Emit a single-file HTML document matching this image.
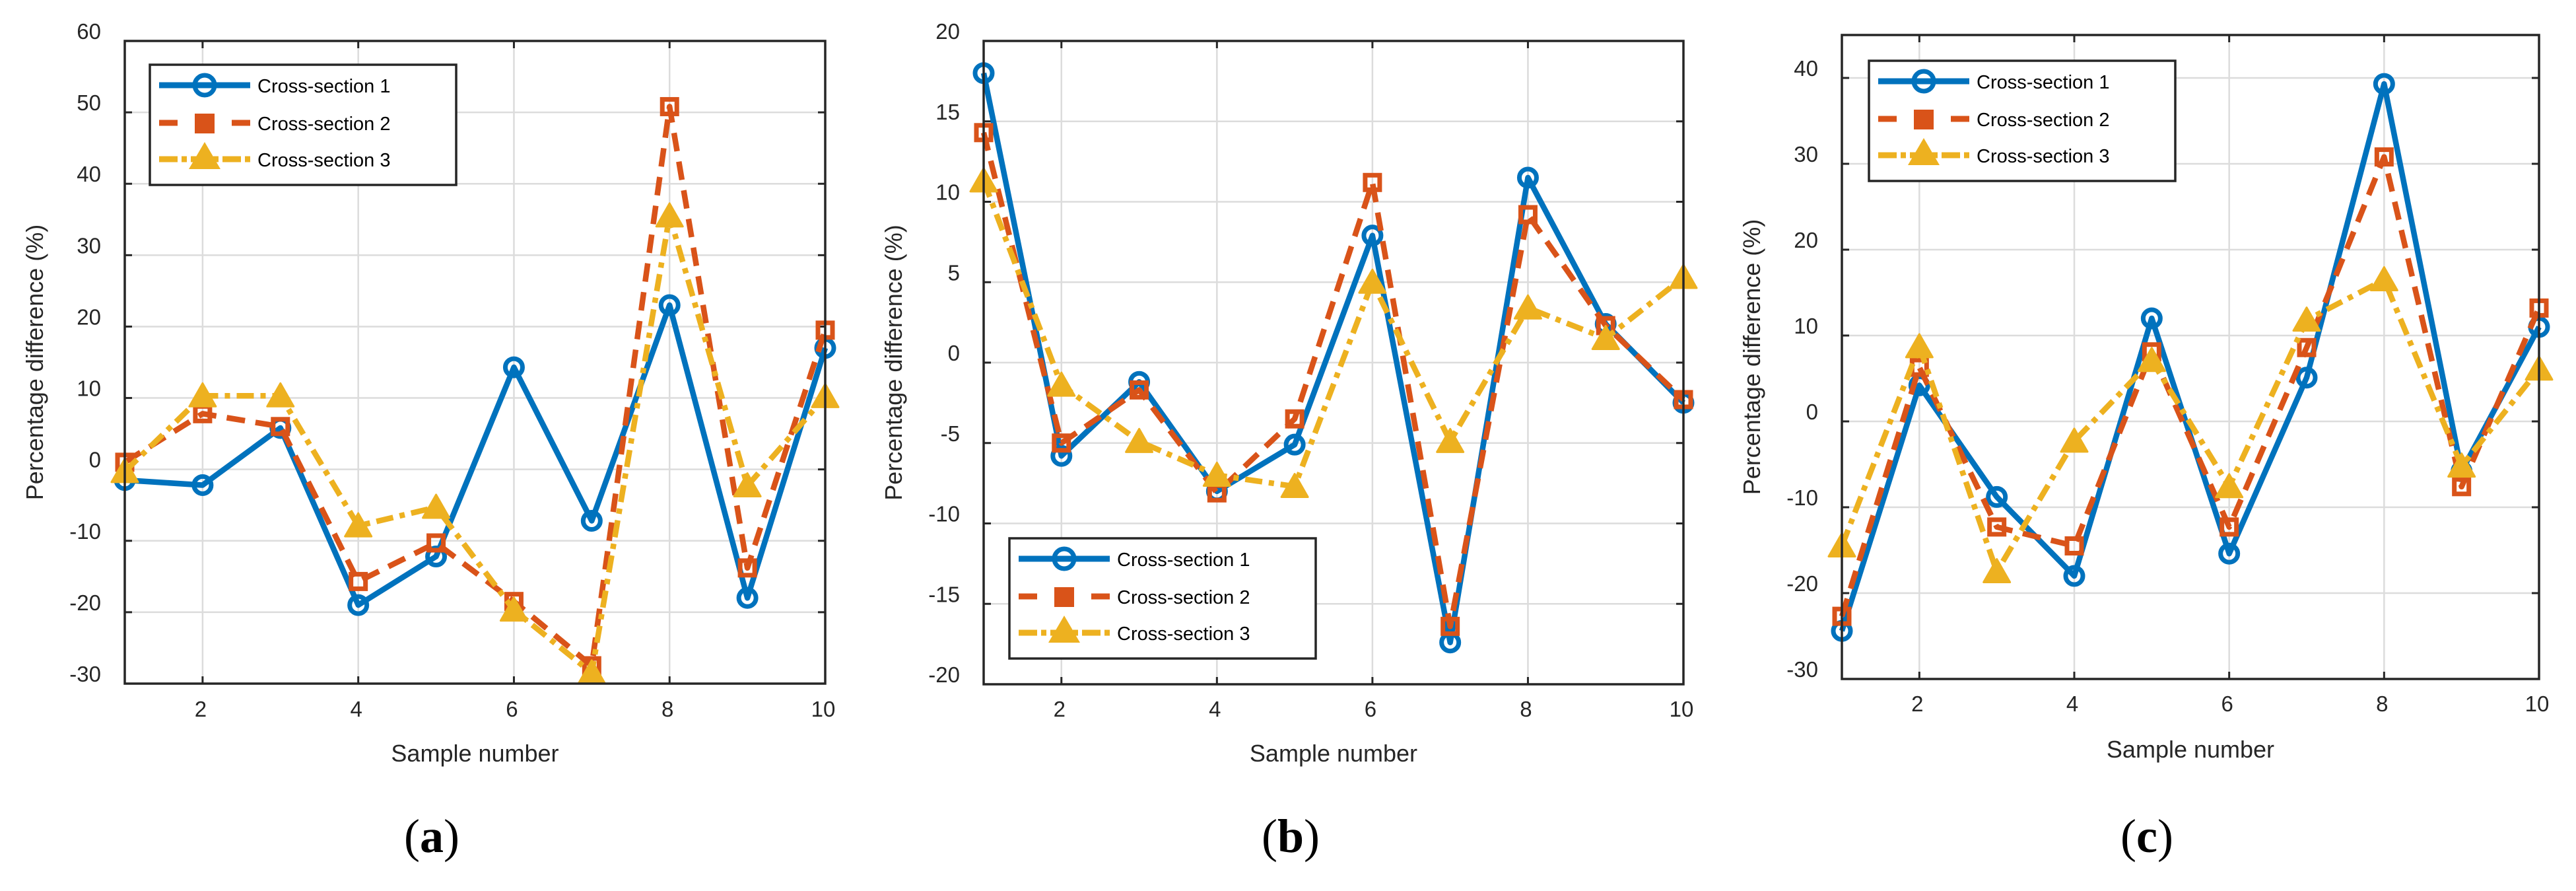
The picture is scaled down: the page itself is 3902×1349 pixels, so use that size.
<!DOCTYPE html>
<html><head><meta charset="utf-8"><style>
html,body{margin:0;padding:0;background:#fff;}
svg{display:block;}
</style></head><body>
<svg id="fig" width="3902" height="1349" viewBox="0 0 3902 1349" xmlns="http://www.w3.org/2000/svg"></svg>
<script>
const samples=[1,2,3,4,5,6,7,8,9,10];
const xTicks=[2,4,6,8,10];
const seriesNames=["Cross-section 1","Cross-section 2","Cross-section 3"];
const aCs1=[-1.5,-2.2,5.8,-19,-12.2,14.3,-7.2,23,-18,17];
const aCs2=[1,7.8,6,-15.7,-10.3,-18.5,-27.5,50.8,-13.8,19.5];
const aCs3=[-0.3,10.3,10.3,-7.9,-5.3,-19.7,-28.5,35.5,-2.3,10.2];
const aYTicks=[-30,-20,-10,0,10,20,30,40,50,60];
const bCs1=[18,-5.8,-1.2,-8,-5.1,7.9,-17.4,11.5,2.4,-2.5];
const bCs2=[14.3,-5,-1.7,-8.1,-3.5,11.2,-16.4,9.2,2.3,-2.3];
const bCs3=[11.3,-1.4,-4.9,-7,-7.7,5,-4.9,3.4,1.5,5.3];
const bYTicks=[-20,-15,-10,-5,0,5,10,15,20];
const cCs1=[-24.4,4.2,-8.8,-18,12,-15.4,5.1,39.3,-5.8,11];
const cCs2=[-22.7,6.3,-12.3,-14.5,8.1,-12.3,8.6,30.8,-7.6,13.2];
const cCs3=[-14.5,8.7,-17.5,-2.3,7.1,-7.6,11.8,16.5,-5.2,6.1];
const cYTicks=[-30,-20,-10,0,10,20,30,40];

const NS="http://www.w3.org/2000/svg";
const fig=document.getElementById('fig');
const colors=["#0072BD","#D95319","#EDB120"];
const dashes=[null,"28 16","26 10 8 10"];
function el(tag,attrs,parent){const e=document.createElementNS(NS,tag);for(const k in attrs)e.setAttribute(k,attrs[k]);(parent||fig).appendChild(e);return e;}
function marker(g,k,x,y){
  const c=colors[k];
  if(k===0){const m=el('circle',{cx:x,cy:y,r:13,fill:'none',stroke:c,'stroke-width':7},g);}
  else if(k===1){const m=el('rect',{x:x-11,y:y-11,width:22,height:22,fill:'none',stroke:c,'stroke-width':7},g);}
  else{const m=el('polygon',{points:`${x},${y-19} ${x-20},${y+16} ${x+20},${y+16}`,fill:c,stroke:c,'stroke-width':3,'stroke-linejoin':'round'},g);}
}
function chart(cfg){
  const {id,L,R,T,B,ymin,ymax,yTicks,series,legend,cap,xlab,xtitle,capY}=cfg;
  const g=el('g',{});
  
  
  const sx=v=>L+(v-1)/(9)*(R-L);
  const sy=v=>B-(v-ymin)/(ymax-ymin)*(B-T);
  xTicks.forEach(t=>{const l=el('line',{x1:sx(t),x2:sx(t),y1:T,y2:B,stroke:'#dcdcdc','stroke-width':2.5},g);});
  yTicks.forEach(t=>{const l=el('line',{x1:L,x2:R,y1:sy(t),y2:sy(t),stroke:'#dcdcdc','stroke-width':2.5},g);});
  xTicks.forEach(t=>{
    el('line',{x1:sx(t),x2:sx(t),y1:B,y2:B-11,stroke:'#262626','stroke-width':3},g);
    el('line',{x1:sx(t),x2:sx(t),y1:T,y2:T+11,stroke:'#262626','stroke-width':3},g);
    const tx=el('text',{x:sx(t)-3,y:xlab,'text-anchor':'middle','font-family':'Liberation Sans, sans-serif','font-size':33,fill:'#262626'},g);
    tx.textContent=t;
    
  });
  yTicks.forEach(t=>{
    el('line',{x1:L,x2:L+11,y1:sy(t),y2:sy(t),stroke:'#262626','stroke-width':3},g);
    el('line',{x1:R,x2:R-11,y1:sy(t),y2:sy(t),stroke:'#262626','stroke-width':3},g);
    const tx=el('text',{x:L-36,y:sy(t)-3,'text-anchor':'end','font-family':'Liberation Sans, sans-serif','font-size':33,fill:'#262626'},g);
    tx.textContent=t;
    
  });
  series.forEach((vals,k)=>{
    const sg=el('g',{},g);
    
    
    const pts=vals.map((v,i)=>sx(samples[i])+','+sy(v)).join(' ');
    const a={points:pts,fill:'none',stroke:colors[k],'stroke-width':8.5,'stroke-linejoin':'round'};
    if(dashes[k])a['stroke-dasharray']=dashes[k];
    el('polyline',a,sg);
    vals.forEach((v,i)=>marker(sg,k,sx(samples[i]),sy(v)));
  });
  const bx=el('rect',{x:L,y:T,width:R-L,height:B-T,fill:'none',stroke:'#262626','stroke-width':3.5},g);
  
  const lg=el('g',{},g);
  
  el('rect',{x:legend.x,y:legend.y,width:464,height:182,fill:'#fff',stroke:'#262626','stroke-width':3.5},lg);
  [30,87,142].forEach((dy,k)=>{
    const ey=legend.y+dy;
    const eg=el('g',{},lg);
    
    const a={x1:legend.x+14,x2:legend.x+152,y1:ey+1,y2:ey+1,stroke:colors[k],'stroke-width':9};
    if(k===1)a['stroke-dasharray']="28 110";
    if(k===2)a['stroke-dasharray']="28 6 8 6";
    el('line',a,eg);
    if(k===1){el('line',{x1:legend.x+124,x2:legend.x+152,y1:ey+1,y2:ey+1,stroke:colors[1],'stroke-width':9},eg);el('rect',{x:legend.x+68,y:ey-13,width:30,height:30,fill:colors[1]},eg);}
    else if(k===2)el('polygon',{points:`${legend.x+83},${ey-25} ${legend.x+59},${ey+16} ${legend.x+107},${ey+16}`,fill:colors[2]},eg);
    else {el('circle',{cx:legend.x+83,cy:ey+1,r:15,fill:'none',stroke:colors[0],'stroke-width':7},eg);}
    const t=el('text',{x:legend.x+163,y:ey+12,'font-family':'Liberation Sans, sans-serif','font-size':29,fill:'#000'},eg);
    t.textContent=seriesNames[k];
  });
  const xt=el('text',{x:(L+R)/2,y:xtitle,'text-anchor':'middle','font-family':'Liberation Sans, sans-serif','font-size':36,fill:'#262626'},g);
  xt.textContent='Sample number';
  const ycx=L-124, ycy=(T+B)/2;
  const yt=el('text',{x:ycx,y:ycy,'text-anchor':'middle','font-family':'Liberation Sans, sans-serif','font-size':36,fill:'#262626',transform:`rotate(-90 ${ycx} ${ycy})`},g);
  yt.textContent='Percentage difference (%)';
  const ct=el('text',{x:cap.x,y:capY,'text-anchor':'middle','font-family':'Liberation Serif, serif','font-size':72,fill:'#000'},g);
  ct.innerHTML='(<tspan font-weight="bold">'+cap.t+'</tspan>)';
  
}
chart({id:'a',L:189,R:1250,T:62,B:1035,ymin:-30,ymax:60,yTicks:aYTicks,series:[aCs1,aCs2,aCs3],legend:{x:227,y:98},cap:{x:654,t:'a'},xlab:1085,xtitle:1153,capY:1290});
chart({id:'b',L:1490,R:2550,T:62,B:1036,ymin:-20,ymax:20,yTicks:bYTicks,series:[bCs1,bCs2,bCs3],legend:{x:1529,y:815},cap:{x:1955,t:'b'},xlab:1085,xtitle:1153,capY:1290});
chart({id:'c',L:2790,R:3846,T:53,B:1028,ymin:-30,ymax:45,yTicks:cYTicks,series:[cCs1,cCs2,cCs3],legend:{x:2831,y:92},cap:{x:3252,t:'c'},xlab:1077,xtitle:1147,capY:1290});
</script>
</body></html>
